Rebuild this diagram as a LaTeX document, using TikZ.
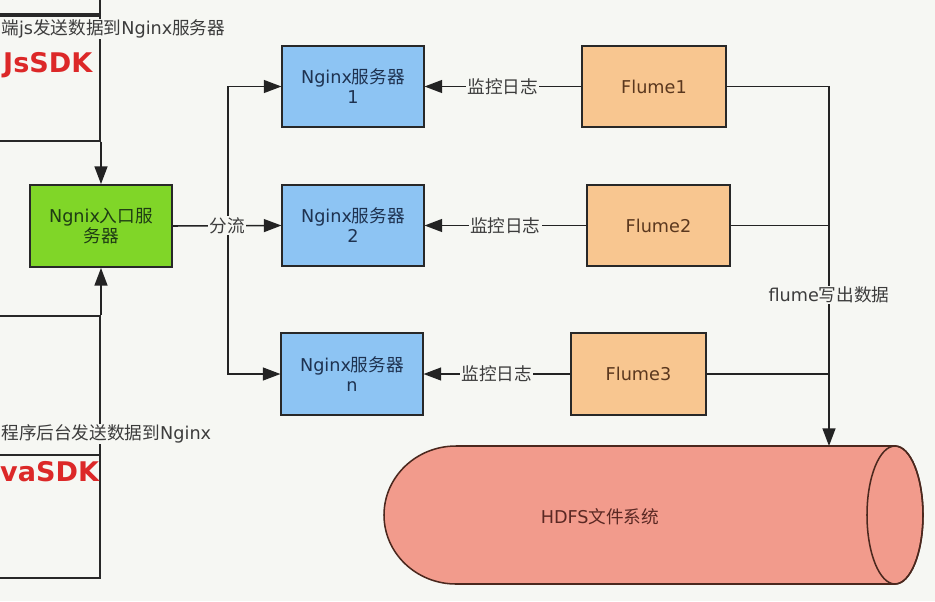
\documentclass[tikz,border=0pt]{standalone}
\usepackage{fontspec}
\setmainfont{DejaVu Sans}
\newfontfamily\cjk{Noto Sans CJK SC}
\usepackage{tikz}
\usetikzlibrary{arrows.meta}
\usetikzlibrary{positioning}

\definecolor{bg}{RGB}{246,247,243}
\definecolor{boxline}{RGB}{40,40,40}
\definecolor{wireclr}{RGB}{35,35,35}
\definecolor{ngxblue}{RGB}{141,196,243}
\definecolor{ngxtext}{RGB}{30,50,80}
\definecolor{flumeorange}{RGB}{248,198,144}
\definecolor{flumetext}{RGB}{90,55,30}
\definecolor{entrygreen}{RGB}{128,214,40}
\definecolor{entrytext}{RGB}{30,60,20}
\definecolor{labtext}{RGB}{60,60,60}
\definecolor{hdfsred}{RGB}{242,155,140}
\definecolor{hdfsline}{RGB}{75,40,30}
\definecolor{hdfstext}{RGB}{90,40,35}
\definecolor{sdkred}{RGB}{220,40,40}

\newcommand{\zh}[1]{{\cjk #1}}
\newcommand{\lblfont}{\fontsize{15}{17}\selectfont}

\begin{document}
\begin{tikzpicture}[
    x=0.85pt, y=-0.85pt,
    box/.style={
        draw=boxline, line width=1.6pt,
        align=center, font=\lblfont,
        minimum height=69pt, inner sep=2pt
    },
    ngx/.style={box, fill=ngxblue, text=ngxtext, minimum width=120pt},
    flume/.style={box, fill=flumeorange, text=flumetext},
    entry/.style={box, fill=entrygreen, text=entrytext, minimum width=120.7pt, minimum height=69.7pt},
    sdkbox/.style={draw=boxline, line width=1.4pt, minimum width=140pt},
    wire/.style={draw=wireclr, line width=1.3pt},
    flow/.style={wire, -{Triangle[length=15pt,width=11pt]}},
    lab/.style={fill=bg, inner sep=1pt, font=\lblfont, text=labtext},
    sdk/.style={font=\fontsize{23}{26}\selectfont\bfseries, text=sdkred, inner sep=0pt}
]
\useasboundingbox (0,0) rectangle (935,601);
\fill[bg] (0,0) rectangle (935,601);
\clip (0,0) rectangle (935,601);

% senders on the left
\node[sdkbox, minimum height=60pt, anchor=south east] (jsTop) at (101,15) {};
\node[sdkbox, minimum height=106.25pt, anchor=north east] (jsBox) at (101,15) {};
\node[sdkbox, minimum height=118.15pt, anchor=north east] (javaTop) at (101,315) {};
\node[sdkbox, minimum height=104.55pt, anchor=north east] (javaBox) at (101,454) {};
\node[lab, anchor=west] (jsNote) at (0,29) {\zh{端}js\zh{发送数据到}Nginx\zh{服务器}};
\node[sdk, anchor=west] (jsName) at (3,65) {JsSDK};
\node[lab, anchor=west] (javaNote) at (0,434) {\zh{程序后台发送数据到}Nginx};
\node[sdk, anchor=west] (javaName) at (0,472) {vaSDK};

% entry and servers
\node[entry] (entry) at (101,226) {Ngnix\zh{入口服}\\\zh{务器}};
\node[ngx] (ngx1) at (353,86.5) {Nginx\zh{服务器}\\1};
\node[ngx] (ngx2) at (353,225.5) {Nginx\zh{服务器}\\2};
\node[ngx] (ngxn) at (352,374) {Nginx\zh{服务器}\\n};

% flume agents
\node[flume, minimum width=122.4pt] (flume1) at (654,86.5) {Flume1};
\node[flume, minimum width=121.5pt] (flume2) at (658.5,225.5) {Flume2};
\node[flume, minimum width=114.75pt] (flume3) at (638.5,374) {Flume3};

% hdfs
\filldraw[fill=hdfsred, draw=hdfsline, line width=1.3pt]
    (895,446) -- (456,446)
    arc[start angle=90, end angle=270, x radius=61.2pt, y radius=58.65pt]
    -- (895,584)
    arc[start angle=-90, end angle=90, x radius=23.8pt, y radius=58.65pt]
    -- cycle;
\draw[draw=hdfsline, line width=1.3pt] (895,515) ellipse [x radius=23.8pt, y radius=58.65pt];
\node[font=\lblfont, text=hdfstext] (hdfs) at (600,517) {HDFS\zh{文件系统}};
\coordinate (hdfsTop) at (829,446);

% connectors
\draw[flow] (jsBox.south east) -- (entry.north);
\draw[flow] (javaTop.north east) -- (entry.south);

\coordinate (split) at (228,226);
\draw[flow] (split) |- (ngx1.west);
\draw[flow] (split) |- (ngxn.west);
\draw[flow] (entry.east) -- node[lab]{\zh{分流}} (ngx2.west);

\draw[flow] (flume1.west) -- node[lab]{\zh{监控日志}} (ngx1.east);
\draw[flow] (flume2.west) -- node[lab]{\zh{监控日志}} (ngx2.east);
\draw[flow] (flume3.west) -- node[lab]{\zh{监控日志}} (ngxn.east);

\draw[wire] (flume2.east) -- (flume2.east -| hdfsTop);
\draw[wire] (flume3.east) -- (flume3.east -| hdfsTop);
\draw[flow] (flume1.east) -| node[lab, pos=0.79]{flume\zh{写出数据}} (hdfsTop);
\end{tikzpicture}
\end{document}
